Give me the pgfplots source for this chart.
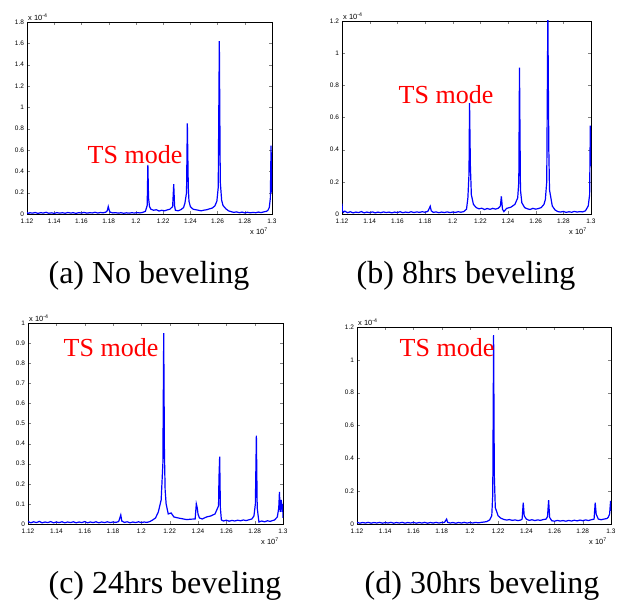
\documentclass[border=0pt]{standalone}
\usepackage{fontspec}
\setmainfont{Liberation Serif}
\newfontfamily\sansf{Liberation Sans}
\usepackage{pgfplots}
\pgfplotsset{compat=1.18}
\pgfplotsset{mat/.style={
  scale only axis, anchor=south west,
  xmin=1.12, xmax=1.3, ymin=0,
  xtick={1.12,1.14,1.16,1.18,1.2,1.22,1.24,1.26,1.28,1.3},
  tick align=inside, tick pos=both, major tick length=3pt,
  scaled ticks=false,
  /pgf/number format/assume math mode=true,
  tick label style={font=\sansf\fontsize{6.5}{7}\selectfont, black},
  xticklabel style={yshift=-1.5pt},
  yticklabel style={xshift=0.5pt},
  axis line style={line width=0.6pt},
  clip mode=individual,
}}
\tikzset{mult/.style={font=\sansf\fontsize{7.5}{8}\selectfont},
  ts/.style={font=\fontsize{26}{28}\selectfont, text=red, inner sep=0pt},
  capt/.style={font=\fontsize{32}{34}\selectfont, inner sep=0pt}}
\begin{document}
\begin{tikzpicture}[x=1pt,y=1pt]
\useasboundingbox (0,0) rectangle (620,603);
% (a)
\begin{axis}[mat, at={(27pt,389pt)}, width=245pt, height=192pt, ymax=1.8,
  ytick={0,0.2,0.4,0.6,0.8,1,1.2,1.4,1.6,1.8}]
\addplot[blue, line width=1.2pt] table {
1.120 0.015
1.121 0.005
1.122 0.012
1.124 0.008
1.126 0.014
1.128 0.006
1.130 0.012
1.132 0.009
1.134 0.016
1.136 0.007
1.138 0.011
1.140 0.006
1.142 0.013
1.144 0.008
1.146 0.012
1.148 0.007
1.150 0.014
1.152 0.009
1.154 0.012
1.156 0.006
1.158 0.013
1.160 0.009
1.162 0.015
1.164 0.008
1.166 0.012
1.168 0.010
1.170 0.016
1.172 0.009
1.174 0.014
1.176 0.011
1.178 0.018
1.179 0.030
1.1797 0.070
1.1803 0.040
1.181 0.018
1.183 0.010
1.185 0.013
1.187 0.008
1.189 0.012
1.191 0.007
1.193 0.011
1.195 0.008
1.197 0.012
1.199 0.009
1.201 0.013
1.203 0.010
1.205 0.015
1.207 0.025
1.2083 0.08
1.2088 0.46
1.2093 0.15
1.210 0.07
1.211 0.045
1.213 0.035
1.215 0.040
1.217 0.028
1.219 0.035
1.221 0.030
1.223 0.038
1.225 0.045
1.227 0.070
1.2278 0.28
1.2284 0.08
1.229 0.035
1.231 0.030
1.233 0.040
1.235 0.060
1.236 0.10
1.2372 0.20
1.2378 0.85
1.2385 0.25
1.239 0.12
1.240 0.07
1.242 0.045
1.244 0.040
1.246 0.035
1.248 0.030
1.250 0.036
1.252 0.040
1.254 0.048
1.256 0.055
1.258 0.075
1.2595 0.12
1.2605 0.25
1.2613 1.62
1.262 0.30
1.263 0.13
1.264 0.08
1.266 0.05
1.268 0.030
1.270 0.022
1.272 0.015
1.274 0.020
1.276 0.012
1.278 0.018
1.280 0.010
1.282 0.016
1.284 0.011
1.286 0.015
1.288 0.012
1.290 0.018
1.292 0.013
1.294 0.020
1.296 0.025
1.297 0.035
1.298 0.06
1.2988 0.15
1.2993 0.64
1.2997 0.30
1.300 0.20
};
\node[mult, anchor=south west, inner sep=1pt] at (rel axis cs:0,1) {x 10\textsuperscript{-4}};
\node[mult, anchor=north east, inner sep=1pt] at ([xshift=-3pt,yshift=-13pt]rel axis cs:1,0) {x 10\textsuperscript{7}};
\end{axis}
% (b)
\begin{axis}[mat, at={(342pt,389pt)}, width=249pt, height=193pt, ymax=1.2,
  ytick={0,0.2,0.4,0.6,0.8,1,1.2}]
\addplot[blue, line width=1.2pt] table {
1.120 0.065
1.1203 0.020
1.121 0.010
1.122 0.018
1.124 0.008
1.126 0.014
1.128 0.007
1.130 0.012
1.132 0.009
1.134 0.015
1.136 0.007
1.138 0.012
1.140 0.008
1.142 0.013
1.144 0.007
1.146 0.012
1.148 0.008
1.150 0.013
1.152 0.009
1.154 0.012
1.156 0.007
1.158 0.012
1.160 0.009
1.162 0.014
1.164 0.008
1.166 0.012
1.168 0.009
1.170 0.014
1.172 0.009
1.174 0.013
1.176 0.010
1.178 0.014
1.180 0.011
1.182 0.016
1.1838 0.048
1.1845 0.020
1.186 0.010
1.188 0.013
1.190 0.008
1.192 0.012
1.194 0.009
1.196 0.013
1.198 0.009
1.200 0.012
1.202 0.010
1.204 0.014
1.206 0.011
1.208 0.015
1.210 0.030
1.211 0.10
1.2118 0.25
1.2122 0.69
1.2128 0.30
1.2135 0.12
1.215 0.06
1.217 0.040
1.219 0.032
1.221 0.036
1.223 0.028
1.225 0.034
1.227 0.029
1.229 0.035
1.231 0.030
1.233 0.036
1.2345 0.050
1.2352 0.11
1.236 0.030
1.237 0.015
1.239 0.035
1.242 0.042
1.245 0.060
1.247 0.10
1.2478 0.20
1.2483 0.91
1.249 0.15
1.250 0.07
1.252 0.040
1.254 0.032
1.256 0.028
1.258 0.035
1.260 0.030
1.262 0.034
1.264 0.040
1.266 0.060
1.267 0.09
1.268 0.20
1.2688 1.25
1.2695 0.40
1.270 0.15
1.272 0.05
1.274 0.025
1.276 0.015
1.278 0.012
1.280 0.016
1.282 0.010
1.284 0.014
1.286 0.011
1.288 0.016
1.290 0.012
1.292 0.015
1.294 0.013
1.296 0.020
1.298 0.050
1.299 0.12
1.2995 0.55
1.300 0.30
};
\node[mult, anchor=south west, inner sep=1pt] at (rel axis cs:0,1) {x 10\textsuperscript{-4}};
\node[mult, anchor=north east, inner sep=1pt] at ([xshift=-3pt,yshift=-13pt]rel axis cs:1,0) {x 10\textsuperscript{7}};
\end{axis}
% (c)
\begin{axis}[mat, at={(28pt,79pt)}, width=255pt, height=201pt, ymax=1,
  ytick={0,0.1,0.2,0.3,0.4,0.5,0.6,0.7,0.8,0.9,1}]
\addplot[blue, line width=1.2pt] table {
1.120 0.012
1.122 0.006
1.124 0.011
1.126 0.007
1.128 0.013
1.130 0.006
1.132 0.010
1.134 0.007
1.136 0.012
1.138 0.006
1.140 0.010
1.142 0.007
1.144 0.011
1.146 0.006
1.148 0.010
1.150 0.007
1.152 0.011
1.154 0.006
1.156 0.010
1.158 0.007
1.160 0.012
1.162 0.006
1.164 0.010
1.166 0.007
1.168 0.011
1.170 0.006
1.172 0.010
1.174 0.007
1.176 0.011
1.178 0.007
1.180 0.010
1.182 0.008
1.184 0.012
1.1855 0.045
1.1862 0.015
1.188 0.008
1.190 0.011
1.192 0.006
1.194 0.010
1.196 0.007
1.198 0.011
1.200 0.007
1.202 0.010
1.204 0.008
1.206 0.012
1.208 0.020
1.210 0.030
1.212 0.060
1.214 0.12
1.2152 0.30
1.2158 0.95
1.2163 0.35
1.2168 0.17
1.2175 0.10
1.219 0.050
1.221 0.055
1.223 0.035
1.226 0.030
1.229 0.026
1.232 0.022
1.235 0.024
1.238 0.025
1.2388 0.10
1.2395 0.08
1.240 0.050
1.241 0.030
1.243 0.025
1.246 0.035
1.249 0.040
1.252 0.050
1.2545 0.09
1.2548 0.23
1.2553 0.335
1.2558 0.08
1.2565 0.020
1.258 0.015
1.260 0.019
1.262 0.014
1.264 0.018
1.266 0.015
1.268 0.019
1.270 0.016
1.272 0.020
1.274 0.017
1.276 0.021
1.278 0.025
1.2795 0.040
1.2805 0.10
1.2812 0.44
1.2818 0.08
1.283 0.010
1.285 0.015
1.287 0.011
1.289 0.016
1.291 0.013
1.293 0.018
1.294 0.020
1.296 0.035
1.297 0.08
1.2975 0.16
1.298 0.06
1.2988 0.12
1.2993 0.06
1.2998 0.10
1.300 0.030
};
\node[mult, anchor=south west, inner sep=1pt] at (rel axis cs:0,1) {x 10\textsuperscript{-4}};
\node[mult, anchor=north east, inner sep=1pt] at ([xshift=-3pt,yshift=-13pt]rel axis cs:1,0) {x 10\textsuperscript{7}};
\end{axis}
% (d)
\begin{axis}[mat, at={(357pt,79pt)}, width=254pt, height=197pt, ymax=1.2,
  ytick={0,0.2,0.4,0.6,0.8,1,1.2}]
\addplot[blue, line width=1.2pt] table {
1.120 0.010
1.122 0.005
1.124 0.009
1.126 0.006
1.128 0.010
1.130 0.005
1.132 0.009
1.134 0.006
1.136 0.010
1.138 0.005
1.140 0.009
1.142 0.006
1.144 0.010
1.146 0.005
1.148 0.009
1.150 0.006
1.152 0.010
1.154 0.005
1.156 0.009
1.158 0.006
1.160 0.010
1.162 0.005
1.164 0.009
1.166 0.006
1.168 0.010
1.170 0.005
1.172 0.009
1.174 0.006
1.176 0.010
1.178 0.006
1.180 0.009
1.182 0.010
1.1835 0.030
1.1842 0.010
1.186 0.006
1.188 0.009
1.190 0.005
1.192 0.009
1.194 0.006
1.196 0.010
1.198 0.006
1.200 0.009
1.202 0.006
1.204 0.010
1.206 0.007
1.208 0.010
1.210 0.012
1.212 0.015
1.214 0.025
1.2155 0.05
1.2162 0.18
1.2168 1.15
1.2173 0.30
1.218 0.10
1.220 0.050
1.222 0.035
1.224 0.028
1.226 0.024
1.228 0.027
1.230 0.022
1.232 0.025
1.234 0.021
1.236 0.024
1.237 0.030
1.2378 0.13
1.2385 0.05
1.240 0.030
1.242 0.022
1.244 0.026
1.246 0.021
1.248 0.025
1.250 0.022
1.252 0.027
1.254 0.030
1.255 0.045
1.2558 0.145
1.2565 0.040
1.258 0.020
1.260 0.017
1.262 0.022
1.264 0.018
1.266 0.021
1.268 0.017
1.270 0.022
1.272 0.018
1.274 0.023
1.276 0.019
1.278 0.024
1.280 0.020
1.282 0.025
1.284 0.021
1.286 0.026
1.288 0.030
1.2888 0.13
1.2895 0.06
1.291 0.030
1.293 0.026
1.295 0.030
1.297 0.033
1.298 0.040
1.299 0.060
1.2997 0.14
1.300 0.080
};
\node[mult, anchor=south west, inner sep=1pt] at (rel axis cs:0,1) {x 10\textsuperscript{-4}};
\node[mult, anchor=north east, inner sep=1pt] at ([xshift=-3pt,yshift=-13pt]rel axis cs:1,0) {x 10\textsuperscript{7}};
\end{axis}
% labels
\node[ts] at (135,448) {TS mode};
\node[ts] at (446,508) {TS mode};
\node[ts] at (111,255) {TS mode};
\node[ts] at (447,255) {TS mode};
\node[capt] at (149,327) {(a) No beveling};
\node[capt] at (466,327) {(b) 8hrs beveling};
\node[capt] at (165,17) {(c) 24hrs beveling};
\node[capt] at (482,17) {(d) 30hrs beveling};
\end{tikzpicture}
\end{document}
